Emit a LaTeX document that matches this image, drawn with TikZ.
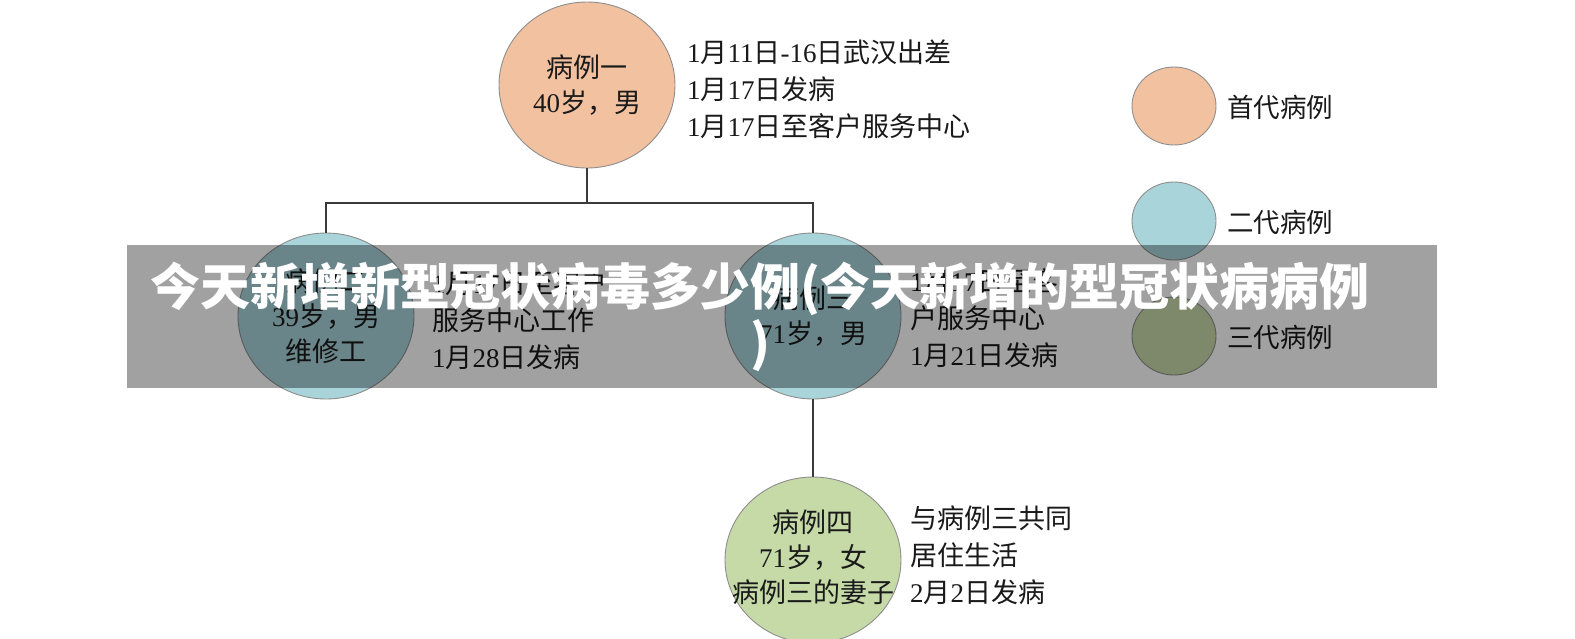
\documentclass[tikz,border=0pt]{standalone}
\usepackage{fontspec}
\setmainfont{Liberation Serif}
\newfontfamily\cjk{Noto Sans CJK SC}
\usetikzlibrary{shapes.geometric}
\newcommand\zh[1]{{\cjk #1}}
\definecolor{peach}{HTML}{F2C1A0}
\definecolor{skyb}{HTML}{A9D4DA}
\definecolor{leaf}{HTML}{C6DAA8}
\definecolor{outl}{HTML}{8E8E8E}
\definecolor{linec}{HTML}{3A3A3A}
\definecolor{txt}{HTML}{1A1A1A}
\tikzset{
 person/.style={draw=outl, line width=0.9pt, shape=ellipse, minimum width=176pt, minimum height=166pt, inner sep=0pt},
 persontext/.style={align=center, inner sep=0pt, text=txt, font=\fontsize{27}{35}\selectfont},
 info/.style={anchor=west, align=left, inner sep=0pt, text=txt, font=\fontsize{27}{37}\selectfont},
 keydot/.style={draw=outl, line width=0.9pt, shape=ellipse, minimum width=84pt, minimum height=78pt, inner sep=0pt},
 keylabel/.style={anchor=west, inner sep=0pt, text=txt, font=\fontsize{26.5}{32}\selectfont\cjk},
 link/.style={draw=linec, line width=1.8pt},
 banner/.style={fill=black, opacity=0.37},
 bannertext/.style={text=white, align=center, inner sep=0pt, font=\cjk\bfseries\fontsize{50}{56}\selectfont}
}
\begin{document}
\begin{tikzpicture}[x=1pt,y=-1pt]
\useasboundingbox (0,0) rectangle (1575,638);
\fill[white] (0,0) rectangle (1575,638);
\coordinate (j) at (587,203);
\node[person, fill=peach] (c1) at (587,85) {};
\node[person, fill=skyb] (c2) at (326,316) {};
\node[person, fill=skyb] (c3) at (813,316) {};
\node[person, fill=leaf] (c4) at (813,560) {};
\node[persontext] (c1t) at (c1) {\zh{病例一}\\40\zh{岁，男}};
\node[persontext] (c2t) at (c2) {\zh{病例二}\\39\zh{岁，男}\\\zh{维修工}};
\node[persontext] (c3t) at (c3) {\zh{病例三}\\71\zh{岁，男}};
\node[persontext] (c4t) at (813,557) {\zh{病例四}\\71\zh{岁，女}\\\zh{病例三的妻子}};
\draw[link] (c1.south) -- (j);
\draw[link] (c2.north) -- (c2.north |- j) -- (c3.north |- j) -- (c3.north);
\draw[link] (c3.south) -- (c4.north);
% side texts
\node[info] (t1) at (687,89) {1\zh{月}11\zh{日}-16\zh{日武汉出差}\\1\zh{月}17\zh{日发病}\\1\zh{月}17\zh{日至客户服务中心}};
\node[info] (t2) at (432,320) {1\zh{月}17\zh{日至客户}\\\zh{服务中心工作}\\1\zh{月}28\zh{日发病}};
\node[info] (t3) at (910,318) {1\zh{月}17\zh{日至客}\\\zh{户服务中心}\\1\zh{月}21\zh{日发病}};
\node[info] (t4) at (910,555) {\zh{与病例三共同}\\\zh{居住生活}\\2\zh{月}2\zh{日发病}};
% legend
\node[keydot, fill=peach] (k1) at (1174,106) {};
\node[keydot, fill=skyb] (k2) at (1174,221) {};
\node[keydot, fill=leaf] (k3) at (1174,336) {};
\node[keylabel] (l1) at (1227,107) {首代病例};
\node[keylabel] (l2) at (1227,222) {二代病例};
\node[keylabel] (l3) at (1227,337) {三代病例};
% overlay banner
\fill[banner] (127,245) rectangle (1437,388);
\node[bannertext] (title) at (760,317) {今天新增新型冠状病毒多少例(今天新增的型冠状病病例\\)};
\end{tikzpicture}
\end{document}
